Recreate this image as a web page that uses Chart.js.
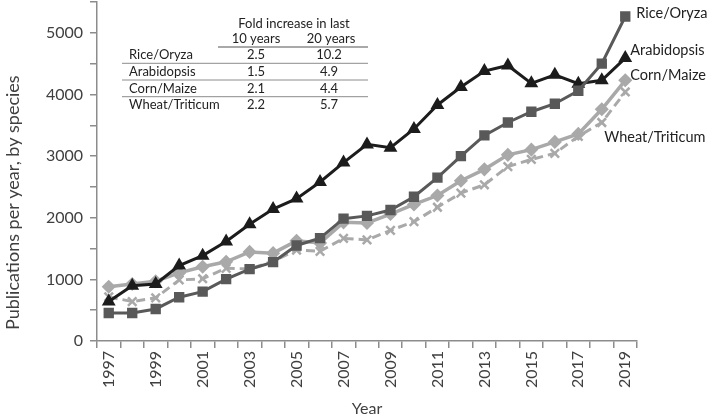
<!DOCTYPE html>
<html>
<head>
<meta charset="utf-8">
<script src="https://cdn.jsdelivr.net/npm/chart.js@4.4.1/dist/chart.umd.min.js"></script>
<style>
  html, body { margin: 0; padding: 0; background: #fff; }
  #wrap { width: 709px; height: 420px; position: relative; }
</style>
</head>
<body>
<div id="wrap"><canvas id="chart"></canvas></div>
<script>
const years = ['1997', '1998', '1999', '2000', '2001', '2002', '2003', '2004', '2005', '2006', '2007', '2008',
  '2009', '2010', '2011', '2012', '2013', '2014', '2015', '2016', '2017', '2018', '2019'];

const rice = [455, 455, 520, 710, 800, 1005, 1165, 1280, 1550, 1670, 1985, 2030,
  2125, 2340, 2650, 3000, 3335, 3545, 3720, 3850, 4060, 4500, 5265];
const arabidopsis = [640, 895, 925, 1225, 1385, 1615, 1895, 2140, 2310, 2580, 2895, 3190,
  3135, 3440, 3830, 4120, 4380, 4470, 4180, 4320, 4175, 4230, 4590];
const corn = [880, 925, 970, 1105, 1205, 1285, 1445, 1425, 1625, 1590, 1925, 1915,
  2060, 2215, 2360, 2600, 2785, 3020, 3105, 3230, 3360, 3760, 4230];
const wheat = [715, 640, 700, 990, 1010, 1180, 1170, 1295, 1475, 1455, 1665, 1640,
  1795, 1935, 2170, 2400, 2535, 2830, 2945, 3045, 3320, 3545, 4040];

// inset table
const tableSpecies = ['Rice/Oryza', 'Arabidopsis', 'Corn/Maize', 'Wheat/Triticum'];
const foldTenYears = ['2.5', '1.5', '2.1', '2.2'];
const foldTwentyYears = ['10.2', '4.9', '4.4', '5.7'];

const FONT = 'Lato, "Open Sans", sans-serif';
const yTitle = 'Publications per year, by species';

// where each end label sits, relative to the last point of its line
const endLabelOffsets = [[11, -3], [5, -8], [5, -5], [-21, 45]];

const insetPlugin = {
  id: 'inset',
  afterDatasetsDraw(chart) {
    const ctx = chart.ctx;
    ctx.save();

    ctx.fillStyle = '#222';
    ctx.font = '14.5px ' + FONT;
    ctx.textBaseline = 'middle';
    ctx.textAlign = 'left';
    chart.data.datasets.forEach((ds, i) => {
      const meta = chart.getDatasetMeta(i);
      const last = meta.data[meta.data.length - 1];
      const off = endLabelOffsets[i];
      ctx.fillText(ds.label, last.x + off[0], last.y + off[1]);
    });

    // table of fold increases
    ctx.font = '13px ' + FONT;
    ctx.textAlign = 'center';
    ctx.fillText('Fold increase in last', 294, 24);
    ctx.fillText('10 years', 256, 39);
    ctx.fillText('20 years', 331, 39);

    ctx.strokeStyle = '#8c8c8c';
    ctx.lineWidth = 1.5;
    ctx.beginPath();
    ctx.moveTo(218, 47);
    ctx.lineTo(368, 47);
    ctx.stroke();

    ctx.lineWidth = 1;
    tableSpecies.forEach((name, i) => {
      const y = 55 + i * 16.7;
      ctx.textAlign = 'left';
      ctx.fillText(name, 129, y);
      ctx.textAlign = 'center';
      ctx.fillText(foldTenYears[i], 256, y);
      ctx.fillText(foldTwentyYears[i], 329, y);
      if (i < tableSpecies.length - 1) {
        ctx.beginPath();
        ctx.moveTo(122, y + 8.3);
        ctx.lineTo(368, y + 8.3);
        ctx.stroke();
      }
    });

    // y axis title, running up from near the bottom like the original
    ctx.fillStyle = '#404040';
    ctx.font = '18px ' + FONT;
    ctx.translate(13, 330);
    ctx.rotate(-Math.PI / 2);
    ctx.textAlign = 'left';
    ctx.fillText(yTitle, 0, 0);

    ctx.restore();
  }
};

const config = {
  type: 'line',
  data: {
    labels: years,
    datasets: [
      {
        label: 'Rice/Oryza',
        data: rice,
        borderColor: '#595959',
        backgroundColor: '#595959',
        borderWidth: 3,
        pointStyle: 'rect',
        pointRadius: 5.2,
      },
      {
        label: 'Arabidopsis',
        data: arabidopsis,
        borderColor: '#1c1c1c',
        backgroundColor: '#1c1c1c',
        borderWidth: 3,
        pointStyle: 'triangle',
        pointRadius: 5,
      },
      {
        label: 'Corn/Maize',
        data: corn,
        borderColor: '#a9a9a9',
        backgroundColor: '#a9a9a9',
        borderWidth: 3.5,
        pointStyle: 'rectRot',
        pointRadius: 4.6,
      },
      {
        label: 'Wheat/Triticum',
        data: wheat,
        borderColor: '#a9a9a9',
        backgroundColor: '#a9a9a9',
        borderWidth: 3,
        borderDash: [9, 5],
        pointStyle: 'crossRot',
        pointRadius: 6,
        pointBorderWidth: 2.5,
      },
    ],
  },
  options: {
    responsive: true,
    maintainAspectRatio: false,
    animation: false,
    layout: { autoPadding: false, padding: { top: 2, right: 72, left: 0, bottom: 0 } },
    plugins: {
      legend: { display: false },
      tooltip: { enabled: false },
    },
    elements: { line: { tension: 0 } },
    scales: {
      x: {
        offset: true,
        border: { color: '#8c8c8c', width: 1.5 },
        grid: { offset: true, drawOnChartArea: false, color: '#8c8c8c', tickLength: 7, lineWidth: 1.5 },
        ticks: {
          autoSkip: false,
          minRotation: 90,
          maxRotation: 90,
          padding: 3,
          color: '#404040',
          font: { family: FONT, size: 16 },
          callback: (value, index) => (index % 2 === 0 ? years[index] : ''),
        },
        title: {
          display: true,
          text: 'Year',
          color: '#404040',
          font: { family: FONT, size: 16 },
          padding: { top: 0, bottom: 2 },
        },
        afterFit: scale => { scale.height = 79; },
      },
      y: {
        min: 0,
        max: 5500,
        border: { color: '#8c8c8c', width: 1.5 },
        grid: { drawOnChartArea: false, color: '#8c8c8c', tickLength: 7, lineWidth: 1.5 },
        ticks: {
          stepSize: 500,
          padding: 7,
          color: '#404040',
          font: { family: FONT, size: 16 },
          callback: value => (value % 1000 === 0 ? value : ''),
        },
        afterFit: scale => {
          scale.width = 97;
          scale.paddingTop = 0;
          scale.paddingBottom = 0;
        },
      },
    },
  },
  plugins: [insetPlugin],
};

new Chart(document.getElementById('chart').getContext('2d'), config);
</script>
</body>
</html>
